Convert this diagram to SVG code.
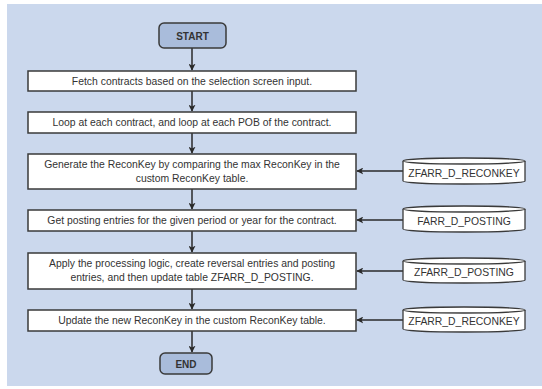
<svg xmlns="http://www.w3.org/2000/svg" width="542" height="389" viewBox="0 0 542 389">
  <style>
    .panel { fill: #cbd8ed; }
    .step { fill: #ffffff; stroke: #3a3a3a; stroke-width: 1.5; }
    .term { fill: #a9bcdb; stroke: #3a3a3a; stroke-width: 1.5; }
    .db { fill: #ffffff; stroke: #3a3a3a; stroke-width: 1.3; }
    .lbl { font-family: "Liberation Sans", Arial, sans-serif; font-size: 10.4px; fill: #333333; text-anchor: middle; }
    .termlbl { font-family: "Liberation Sans", Arial, sans-serif; font-size: 10px; font-weight: bold; fill: #333333; text-anchor: middle; }
    .conn { stroke: #2a2a2a; stroke-width: 1.5; fill: none; marker-end: url(#arrow); }
  </style>
  <defs>
    <marker id="arrow" viewBox="0 0 10 10" refX="9" refY="5" markerWidth="7" markerHeight="7" markerUnits="userSpaceOnUse" orient="auto">
      <path d="M0,0 L10,5 L0,10 L2.5,5 z" fill="#2a2a2a"/>
    </marker>
  </defs>

  <rect class="panel" x="7" y="4" width="535" height="382"/>

  <g id="connectors">
    <line class="conn" x1="192" y1="48" x2="192" y2="70"/>
    <line class="conn" x1="192" y1="91" x2="192" y2="111"/>
    <line class="conn" x1="192" y1="133" x2="192" y2="153"/>
    <line class="conn" x1="192" y1="189" x2="192" y2="209"/>
    <line class="conn" x1="192" y1="231" x2="192" y2="252"/>
    <line class="conn" x1="192" y1="289" x2="192" y2="309"/>
    <line class="conn" x1="192" y1="331" x2="192" y2="352"/>
    <line class="conn" x1="403" y1="171" x2="357" y2="171"/>
    <line class="conn" x1="403" y1="220" x2="357" y2="220"/>
    <line class="conn" x1="403" y1="271" x2="357" y2="271"/>
    <line class="conn" x1="403" y1="320" x2="357" y2="320"/>
  </g>

  <g id="start">
    <rect class="term" x="159" y="23" width="67" height="25" rx="5"/>
    <text class="termlbl" x="192.5" y="39.5">START</text>
  </g>

  <g id="fetch">
    <rect class="step" x="28" y="71" width="328" height="20"/>
    <text class="lbl" x="192" y="84.5">Fetch contracts based on the selection screen input.</text>
  </g>

  <g id="loop">
    <rect class="step" x="28" y="112" width="328" height="21"/>
    <text class="lbl" x="192" y="126">Loop at each contract, and loop at each POB of the contract.</text>
  </g>

  <g id="generate">
    <rect class="step" x="28" y="154" width="328" height="35"/>
    <text class="lbl" x="192" y="168">Generate the ReconKey by comparing the max ReconKey in the</text>
    <text class="lbl" x="192" y="182">custom ReconKey table.</text>
  </g>

  <g id="get-posting">
    <rect class="step" x="28" y="210" width="328" height="21"/>
    <text class="lbl" x="192" y="224">Get posting entries for the given period or year for the contract.</text>
  </g>

  <g id="apply">
    <rect class="step" x="28" y="253" width="328" height="36"/>
    <text class="lbl" x="192" y="267">Apply the processing logic, create reversal entries and posting</text>
    <text class="lbl" x="192" y="281">entries, and then update table ZFARR_D_POSTING.</text>
  </g>

  <g id="update">
    <rect class="step" x="28" y="310" width="328" height="21"/>
    <text class="lbl" x="192" y="324">Update the new ReconKey in the custom ReconKey table.</text>
  </g>

  <g id="end">
    <rect class="term" x="160" y="353" width="52" height="21" rx="5"/>
    <text class="termlbl" x="186" y="367.5">END</text>
  </g>

  <g id="db-reconkey-1">
    <path class="db" d="M403,161 A61,3 0 0 1 525,161 L525,181 A61,3 0 0 1 403,181 Z"/>
    <path class="db" d="M403,161 A61,3 0 0 0 525,161"/>
    <text class="lbl" x="464" y="177">ZFARR_D_RECONKEY</text>
  </g>

  <g id="db-posting">
    <path class="db" d="M403,209 A61,3 0 0 1 525,209 L525,229 A61,3 0 0 1 403,229 Z"/>
    <path class="db" d="M403,209 A61,3 0 0 0 525,209"/>
    <text class="lbl" x="464" y="225">FARR_D_POSTING</text>
  </g>

  <g id="db-zposting">
    <path class="db" d="M403,261 A61,3 0 0 1 525,261 L525,280 A61,3 0 0 1 403,280 Z"/>
    <path class="db" d="M403,261 A61,3 0 0 0 525,261"/>
    <text class="lbl" x="464" y="276">ZFARR_D_POSTING</text>
  </g>

  <g id="db-reconkey-2">
    <path class="db" d="M403,310 A61,3 0 0 1 525,310 L525,329 A61,3 0 0 1 403,329 Z"/>
    <path class="db" d="M403,310 A61,3 0 0 0 525,310"/>
    <text class="lbl" x="464" y="325">ZFARR_D_RECONKEY</text>
  </g>
</svg>
